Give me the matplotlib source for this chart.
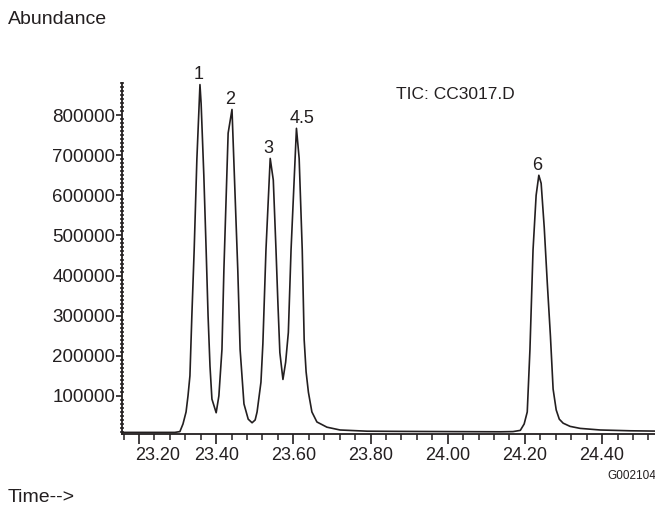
import numpy as np
import matplotlib
matplotlib.use('Agg')
import matplotlib.pyplot as plt
import matplotlib.transforms as mtransforms
from matplotlib.ticker import MultipleLocator, FixedLocator

plt.rcParams['font.family'] = ['Liberation Sans', 'DejaVu Sans']

# chromatogram trace (time in min, abundance)
time = [23.150, 23.293, 23.306, 23.314, 23.322, 23.327, 23.332, 23.337, 23.343, 23.350,
        23.358, 23.361, 23.368, 23.374, 23.379, 23.384, 23.389, 23.400, 23.407, 23.415,
        23.420, 23.431, 23.441, 23.449, 23.456, 23.462, 23.472, 23.483, 23.493, 23.501,
        23.506, 23.516, 23.521, 23.529, 23.540, 23.548, 23.555, 23.560, 23.565, 23.573,
        23.580, 23.587, 23.594, 23.608, 23.615, 23.623, 23.628, 23.633, 23.639, 23.648,
        23.661, 23.687, 23.721, 23.791, 23.877, 24.006, 24.136, 24.169, 24.188, 24.198,
        24.206, 24.213, 24.221, 24.229, 24.236, 24.242, 24.250, 24.258, 24.266, 24.273,
        24.281, 24.289, 24.299, 24.317, 24.343, 24.395, 24.473, 24.560]
abundance = [9000, 9000, 11000, 30000, 60000, 100000, 150000, 300000, 464000, 690000,
             876000, 829000, 650000, 464000, 300000, 174000, 92000, 58000, 100000, 216000,
             414000, 755000, 814000, 600000, 414000, 216000, 80000, 42000, 33000, 40000,
             60000, 134000, 230000, 464000, 692000, 638000, 464000, 330000, 208000, 141000,
             184000, 258000, 464000, 767000, 692000, 464000, 240000, 160000, 109000, 60000,
             35000, 22000, 15000, 12000, 11500, 11000, 10500, 11000, 14000, 30000,
             60000, 216000, 464000, 600000, 650000, 630000, 520000, 380000, 250000, 117000,
             65000, 42000, 32000, 24000, 19000, 15000, 13000, 12000]

# peak labels
peak_labels = ['1', '2', '3', '4.5', '6']
peak_times = [23.358, 23.441, 23.540, 23.608, 24.236]

x_ticks = [23.20, 23.40, 23.60, 23.80, 24.00, 24.20, 24.40]
y_ticks = [100000, 200000, 300000, 400000, 500000, 600000, 700000, 800000]

ink = '#231f20'

fig = plt.figure(figsize=(6.55, 5.12), dpi=100)
ax = fig.add_axes([122 / 655, 78 / 512, 1 - 122 / 655, 351 / 512])

ax.plot(time, abundance, color=ink, lw=1.2)

ax.set_xlim(23.156, 24.537)
ax.set_ylim(5000, 880000)

ax.spines['top'].set_visible(False)
ax.spines['right'].set_visible(False)
for side in ['left', 'bottom']:
    ax.spines[side].set_linewidth(1.3)
    ax.spines[side].set_color(ink)

ax.xaxis.set_major_locator(FixedLocator(x_ticks))
ax.xaxis.set_minor_locator(MultipleLocator(0.04))
ax.set_xticklabels(['%.2f' % t for t in x_ticks])
ax.yaxis.set_major_locator(FixedLocator(y_ticks))
ax.yaxis.set_minor_locator(MultipleLocator(10000))
ax.set_yticklabels([str(v) for v in y_ticks])

ax.tick_params(axis='x', which='major', direction='out', length=7, width=1.2,
               labelsize=13, colors=ink, pad=2)
ax.tick_params(axis='x', which='minor', direction='out', length=4.5, width=1.1, colors=ink)
ax.tick_params(axis='y', which='major', direction='out', length=4, width=1.2,
               labelsize=13.5, colors=ink, pad=1)
ax.tick_params(axis='y', which='minor', direction='inout', length=2.5, width=1.1, colors=ink)

# first time label sits right of its tick in the original
first = ax.get_xticklabels()[0]
first.set_transform(first.get_transform() +
                    mtransforms.ScaledTranslation(19 / 100, 0, fig.dpi_scale_trans))

# peak numbers above each peak
for lab, t in zip(peak_labels, peak_times):
    h = np.interp(t, time, abundance)
    dx = 4 if lab == '4.5' else -1
    ax.annotate(lab, (t, h), xytext=(dx, 1), textcoords='offset points',
                ha='center', va='bottom', fontsize=13, color=ink)

ax.text(0.514, 0.966, 'TIC: CC3017.D', transform=ax.transAxes,
        ha='left', va='center', fontsize=12.5, color=ink)

fig.text(8 / 655, 1 - 20 / 512, 'Abundance', ha='left', va='center', fontsize=14, color=ink)
fig.text(8 / 655, 1 - 498 / 512, 'Time-->', ha='left', va='center', fontsize=14, color=ink)
fig.text(607 / 655, 1 - 476 / 512, 'G002104', ha='left', va='center', fontsize=8.5, color=ink)

fig.savefig('out.png', dpi=100)
